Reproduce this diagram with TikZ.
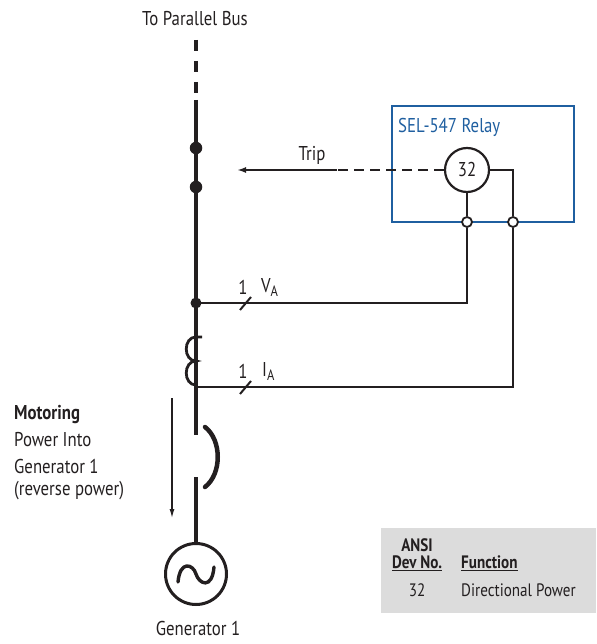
\documentclass[tikz,border=0pt]{standalone}
\usepackage{fontspec}
\usepackage{graphicx}
\setmainfont{PT Sans}
\usetikzlibrary{arrows.meta}
\definecolor{selblue}{HTML}{1F5FA0}
\definecolor{tablegray}{HTML}{DCDCDC}
\definecolor{ink}{HTML}{231F20}
\newcommand{\cnd}[1]{\scalebox{0.84}[1]{#1}}
\newcommand{\subA}{\raisebox{-4pt}{\fontsize{15}{15}\selectfont A}}
\begin{document}
\begin{tikzpicture}[x=1pt,y=-1pt,
  lbl/.style={font=\fontsize{20}{24}\selectfont, text=ink, inner sep=0pt},
  tbl/.style={font=\fontsize{18}{21}\selectfont, text=ink, inner sep=0pt},
  tblb/.style={font=\bfseries\fontsize{18}{21}\selectfont, text=ink, inner sep=0pt},
  bus/.style={line width=4.5pt, draw=ink},
  wire/.style={line width=2pt, draw=ink},
  dotnode/.style={circle, fill=ink, minimum size=12.5pt, inner sep=0pt},
  opendot/.style={circle, draw=ink, fill=white, line width=1.8pt, minimum size=10pt, inner sep=0pt},
  tiparrow/.style={-{Latex[length=9pt,width=6pt]}}
]
\useasboundingbox (0,0) rectangle (596,644);

% title
\node[lbl] (title) at (195,19) {\cnd{To Parallel Bus}};

% bus coordinates
\coordinate (busTop) at (196,40);
\coordinate (busSolid) at (196,100);
\node[dotnode] (d1) at (196,148) {};
\node[dotnode] (d2) at (196,187) {};
\node[dotnode, minimum size=11pt] (jv) at (196,303) {};
\coordinate (ji) at (196,387);
\coordinate (busEnd) at (196,435);
\coordinate (brkTop) at (205,427);
\coordinate (brkBot) at (205,487);
\coordinate (lowTop) at (196,477);
\node[circle, draw=ink, line width=3pt, minimum size=61pt, inner sep=0pt] (gen) at (196,574) {};
\node[lbl] (genlbl) at (198,628) {\cnd{Generator 1}};

\draw[bus, dash pattern=on 11pt off 10pt] (busTop) -- (busSolid);
\draw[bus] (busSolid) -- (busEnd);
\draw[bus, line cap=round] (brkTop) .. controls (222,440) and (222,474) .. (brkBot);
\draw[bus] (lowTop) -- (gen.north);
% CT loops
\draw[line width=2.8pt, draw=ink] (202,337) -- (196,337) .. controls (183,337) and (183,361) .. (196,361)
  .. controls (183,361) and (183,385) .. (196,385);
% tilde
\draw[line width=3.4pt, draw=ink, line cap=round] (178,582) .. controls (180,560) and (193,564) .. (196,574)
  .. controls (199,584) and (212,590) .. (214,567);

% relay box
\draw[selblue, line width=2.2pt] (392,106) rectangle (574,222);
\node[anchor=west, font=\fontsize{20}{24}\selectfont, text=selblue, inner sep=0pt] (rlbl) at (398,127) {\cnd{SEL-547 Relay}};
\node[circle, draw=ink, line width=2.2pt, minimum size=44pt, inner sep=0pt, font=\fontsize{20}{24}\selectfont, text=ink] (r32) at (467,170) {\cnd{32}};
\node[opendot] (o1) at (467,222) {};
\node[opendot] (o2) at (513,222) {};
\coordinate (rc) at (513,170);
\coordinate (vend) at (467,303);
\coordinate (iend) at (513,387);

% trip
\coordinate (tripmid) at (337,170);
\coordinate (tripend) at (237,170);
\draw[wire, dash pattern=on 10pt off 6pt] (r32.west) -- (tripmid);
\draw[wire, tiparrow] (tripmid) -- (tripend);
\node[lbl] (trip) at (312,155) {\cnd{Trip}};

% relay wiring
\draw[wire] (r32.south) -- (o1.north);
\draw[wire] (o1.south) -- (vend) -- (jv.center);
\draw[wire] (r32.east) -- (rc) -- (o2.north);
\draw[wire] (o2.south) -- (iend) -- (ji);

% slash marks
\draw[wire] (240,310) -- (251,297);
\draw[wire] (240,394) -- (251,381);
\node[lbl] (n1) at (243,287) {\cnd{1}};
\node[lbl, anchor=west] (va) at (261,287) {\cnd{V\subA}};
\node[lbl] (n2) at (243,371) {\cnd{1}};
\node[lbl, anchor=west] (ia) at (262,371) {\cnd{I\subA}};

% motoring
\node[lbl, anchor=west, font=\bfseries\fontsize{20}{24}\selectfont] (mot1) at (14,415) {\cnd{Motoring}};
\node[lbl, anchor=west] (mot2) at (14,440) {\cnd{Power Into}};
\node[lbl, anchor=west] (mot3) at (14,466) {\cnd{Generator 1}};
\node[lbl, anchor=west] (mot4) at (14,491) {\cnd{(reverse power)}};
\coordinate (arrTop) at (172,398);
\coordinate (arrBot) at (172,518);
\draw[ink, line width=1.2pt, -{Latex[length=9pt,width=5pt]}] (arrTop) -- (arrBot);

% table
\fill[tablegray] (381,528) rectangle (596,613);
\node[tblb] (ansi) at (417,545) {\cnd{ANSI}};
\node[tblb] (devno) at (417,563) {\cnd{\underline{Dev No.}}};
\node[tblb, anchor=west] (func) at (461,563) {\cnd{\underline{Function}}};
\node[tbl] (n32) at (417,590) {\cnd{32}};
\node[tbl, anchor=west] (dp) at (461,590) {\cnd{Directional Power}};
\end{tikzpicture}
\end{document}
